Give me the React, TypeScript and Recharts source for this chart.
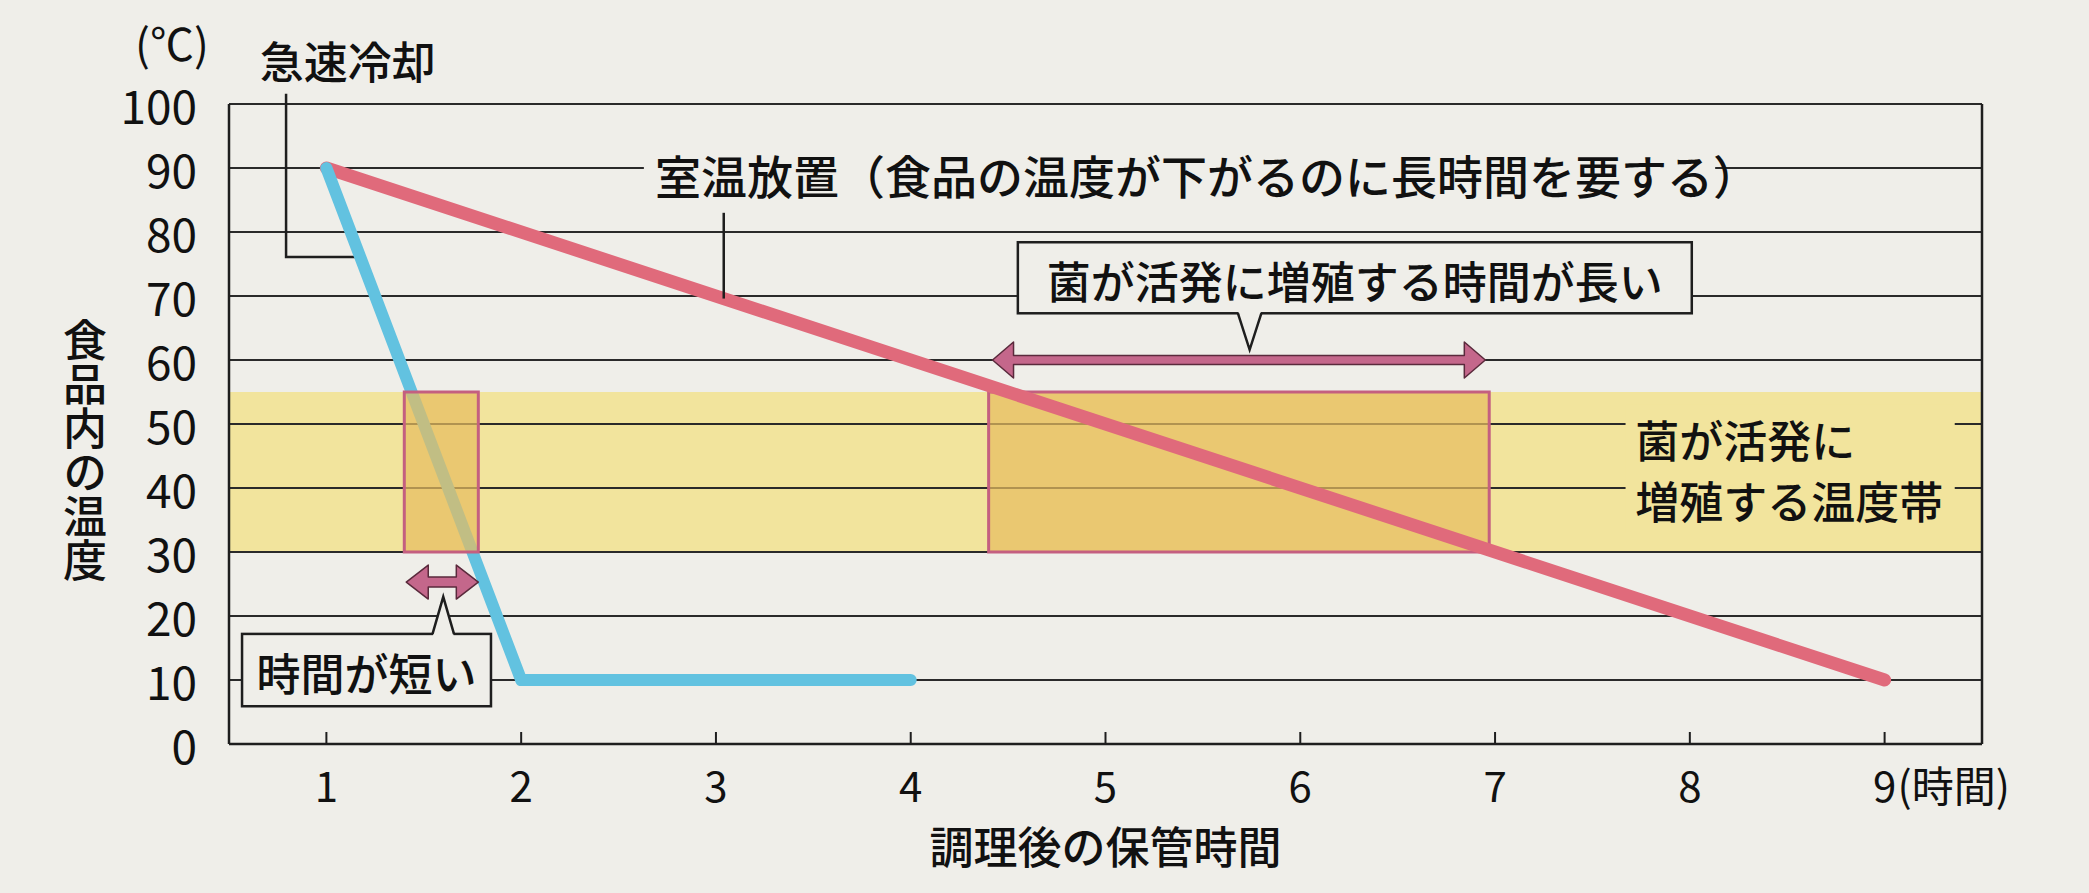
import {
  CartesianGrid,
  ComposedChart,
  Line,
  ReferenceArea,
  ReferenceDot,
  ReferenceLine,
  XAxis,
  YAxis,
} from 'recharts';

// axis ticks
const hours = [1, 2, 3, 4, 5, 6, 7, 8, 9];
const tempTicks = [0, 10, 20, 30, 40, 50, 60, 70, 80, 90, 100];

// 室温放置
const roomHours = [1, 9];
const roomTemps = [90, 10];

// 急速冷却
const rapidHours = [1, 2, 4];
const rapidTemps = [90, 10, 10];

// 菌が活発に増殖する温度帯 (°C)
const growthBand = [30, 55];
// time spent inside the band
const rapidWindow = [1.4, 1.78];
const roomWindow = [4.4, 6.97];

const roomData = roomHours.map((h, i) => ({ hour: h, temp: roomTemps[i] }));
const rapidData = rapidHours.map((h, i) => ({ hour: h, temp: rapidTemps[i] }));

const paper = '#efeee9';
const ink = '#1e1e1e';
const font = "'Noto Sans CJK JP', 'Noto Sans CJK SC', sans-serif";

const textAt = (text: string, anchor: 'start' | 'middle' | 'end', size = 44, weight = 500) => (p: any) => (
  <text
    x={p.cx}
    y={p.cy}
    textAnchor={anchor}
    dominantBaseline="central"
    fontSize={size}
    fontWeight={weight}
    fontFamily={font}
    fill="#111"
  >
    {text}
  </text>
);

const verticalText = (text: string, size = 44) => (p: any) => (
  <text
    x={p.cx}
    y={p.cy}
    textAnchor="middle"
    fontSize={size}
    fontWeight={500}
    fontFamily={font}
    fill="#111"
    style={{ writingMode: 'vertical-rl', textOrientation: 'upright' }}
  >
    {text}
  </text>
);

const calloutBox = (text: string) => (p: any) => (
  <g>
    <rect x={p.x} y={p.y} width={p.width} height={p.height} fill={paper} stroke={ink} strokeWidth={2.5} />
    <text
      x={p.x + p.width / 2}
      y={p.y + p.height / 2 + 2}
      textAnchor="middle"
      dominantBaseline="central"
      fontSize={44}
      fontWeight={500}
      fontFamily={font}
      fill="#111"
    >
      {text}
    </text>
  </g>
);

const pointer = (dir: 'up' | 'down') => (p: any) => {
  const { x, y, width: w, height: h } = p;
  const base = dir === 'down' ? y : y + h;
  const tip = dir === 'down' ? y + h : y;
  const over = dir === 'down' ? -3 : 3;
  return (
    <g>
      <polygon
        points={`${x},${base + over} ${x + w / 2},${tip} ${x + w},${base + over}`}
        fill={paper}
      />
      <polyline
        points={`${x},${base} ${x + w / 2},${tip} ${x + w},${base}`}
        fill="none"
        stroke={ink}
        strokeWidth={2.5}
      />
    </g>
  );
};

const doubleArrow = (head: number, half: number, shaft: number) => (p: any) => {
  const cy = p.y + p.height / 2;
  const a = p.x;
  const b = p.x + p.width;
  const pts = [
    [a, cy],
    [a + head, cy - half],
    [a + head, cy - shaft],
    [b - head, cy - shaft],
    [b - head, cy - half],
    [b, cy],
    [b - head, cy + half],
    [b - head, cy + shaft],
    [a + head, cy + shaft],
    [a + head, cy + half],
  ];
  return (
    <polygon
      points={pts.map((q) => q.join(',')).join(' ')}
      fill="#c4678b"
      stroke="#5a2a3c"
      strokeWidth={1.5}
      strokeLinejoin="round"
    />
  );
};

const elbow = (p: any) => (
  <polyline
    points={`${p.x},${p.y} ${p.x},${p.y + p.height} ${p.x + p.width},${p.y + p.height}`}
    fill="none"
    stroke={ink}
    strokeWidth={2.5}
  />
);

const plain = (fill: string) => (p: any) => (
  <rect x={p.x} y={p.y} width={p.width} height={p.height} fill={fill} />
);

const windowBox = (p: any) => (
  <rect
    x={p.x}
    y={p.y}
    width={p.width}
    height={p.height}
    fill="#e6bd60"
    fillOpacity={0.72}
    stroke="#c45f80"
    strokeWidth={3}
  />
);

function HourTick({ x, y, payload }: any) {
  return (
    <g>
      <line x1={x} y1={y} x2={x} y2={y - 12} stroke={ink} strokeWidth={2} />
      <text x={x} y={y + 39} textAnchor="middle" dominantBaseline="central" fontSize={42} fontFamily={font} fill="#111">
        {payload.value}
      </text>
      {payload.value === 9 && (
        <text x={x + 13} y={y + 39} textAnchor="start" dominantBaseline="central" fontSize={42} fontFamily={font} fill="#111">
          (時間)
        </text>
      )}
    </g>
  );
}

function TempTick({ x, y, payload }: any) {
  return (
    <text x={x} y={y} textAnchor="end" dominantBaseline="central" fontSize={46} fontFamily={font} fill="#111">
      {payload.value}
    </text>
  );
}

export default function App() {
  return (
    <div style={{ position: 'fixed', left: 0, top: 0, width: 2089, height: 893, background: paper }}>
      <ComposedChart width={2089} height={893} margin={{ top: 104, right: 107, bottom: 0, left: 0 }}>
        <ReferenceArea
          y1={growthBand[0]}
          y2={growthBand[1]}
          x1={0.5}
          x2={9.5}
          ifOverflow="visible"
          zIndex={-150}
          shape={plain('#f2e49d')}
        />
        <CartesianGrid vertical={false} stroke="#2a2a2a" strokeWidth={2} />
        <XAxis
          type="number"
          dataKey="hour"
          domain={[0.5, 9.5]}
          ticks={hours}
          allowDataOverflow
          height={149}
          tickLine={false}
          tickSize={0}
          tickMargin={0}
          axisLine={{ stroke: ink, strokeWidth: 2.5 }}
          tick={<HourTick />}
        />
        <YAxis
          type="number"
          domain={[0, 100]}
          ticks={tempTicks}
          allowDataOverflow
          width={229}
          tickLine={false}
          tickSize={0}
          tickMargin={32}
          axisLine={{ stroke: ink, strokeWidth: 2.5 }}
          tick={<TempTick />}
        />
        <ReferenceLine x={9.5} stroke={ink} strokeWidth={2.5} ifOverflow="visible" />

        {/* label backgrounds that break the grid lines */}
        <ReferenceArea x1={2.63} x2={8.13} y1={87.5} y2={92.5} ifOverflow="visible" shape={plain(paper)} />
        <ReferenceArea x1={7.67} x2={9.36} y1={33} y2={53} ifOverflow="visible" shape={plain('#f2e49d')} />

        <ReferenceArea x1={roomWindow[0]} x2={roomWindow[1]} y1={growthBand[0]} y2={growthBand[1]} ifOverflow="visible" shape={windowBox} />

        <Line
          data={roomData}
          dataKey="temp"
          type="linear"
          stroke="#e06a7b"
          strokeWidth={13}
          strokeLinecap="round"
          dot={false}
          activeDot={false}
          isAnimationActive={false}
        />
        <Line
          data={rapidData}
          dataKey="temp"
          type="linear"
          stroke="#62c2e0"
          strokeWidth={12}
          strokeLinecap="round"
          strokeLinejoin="round"
          dot={false}
          activeDot={false}
          isAnimationActive={false}
        />

        <ReferenceArea
          x1={rapidWindow[0]}
          x2={rapidWindow[1]}
          y1={growthBand[0]}
          y2={growthBand[1]}
          ifOverflow="visible"
          zIndex={450}
          shape={windowBox}
        />

        {/* arrows */}
        <ReferenceArea x1={4.42} x2={6.95} y1={59.8} y2={60.2} ifOverflow="visible" zIndex={460} shape={doubleArrow(21, 18, 4.5)} />
        <ReferenceArea x1={1.41} x2={1.78} y1={25.1} y2={25.5} ifOverflow="visible" zIndex={460} shape={doubleArrow(22, 17, 5)} />

        {/* callouts */}
        <ReferenceArea x1={4.55} x2={8.01} y1={67.3} y2={78.4} ifOverflow="visible" shape={calloutBox('菌が活発に増殖する時間が長い')} />
        <ReferenceArea x1={5.68} x2={5.8} y1={61.6} y2={67.3} ifOverflow="visible" shape={pointer('down')} />
        <ReferenceArea x1={0.567} x2={1.845} y1={5.9} y2={17.2} ifOverflow="visible" shape={calloutBox('時間が短い')} />
        <ReferenceArea x1={1.545} x2={1.655} y1={17.2} y2={23} ifOverflow="visible" shape={pointer('up')} />

        {/* leaders */}
        <ReferenceArea x1={0.793} x2={1.16} y1={76.1} y2={101.6} ifOverflow="visible" shape={elbow} />
        <ReferenceLine
          segment={[
            { x: 3.04, y: 83 },
            { x: 3.04, y: 69.6 },
          ]}
          stroke={ink}
          strokeWidth={2.5}
          ifOverflow="visible"
        />

        {/* texts */}
        <ReferenceDot x={1.11} y={106.9} ifOverflow="visible" shape={textAt('急速冷却', 'middle')} />
        <ReferenceDot x={2.687} y={89} ifOverflow="visible" shape={textAt('室温放置（食品の温度が下がるのに長時間を要する）', 'start', 46)} />
        <ReferenceDot x={7.72} y={47.7} ifOverflow="visible" shape={textAt('菌が活発に', 'start')} />
        <ReferenceDot x={7.72} y={38.1} ifOverflow="visible" shape={textAt('増殖する温度帯', 'start')} />
        <ReferenceDot x={0.207} y={109.7} ifOverflow="visible" shape={textAt('(℃)', 'middle', 44, 400)} />
        <ReferenceDot x={-0.239} y={45.9} ifOverflow="visible" shape={verticalText('食品内の温度')} />
        <ReferenceDot x={5} y={-15.8} ifOverflow="visible" shape={textAt('調理後の保管時間', 'middle')} />
      </ComposedChart>
    </div>
  );
}
